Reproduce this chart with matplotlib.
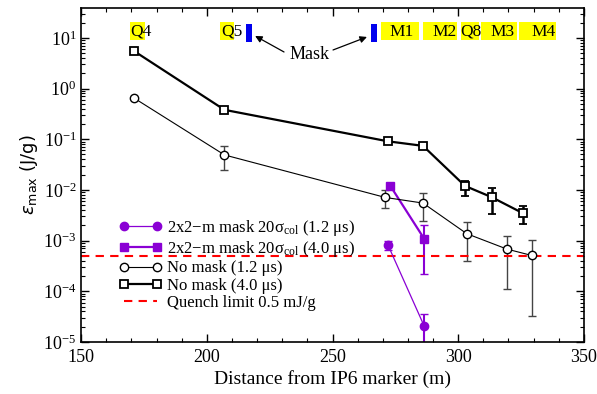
import numpy as np
import matplotlib
matplotlib.use("Agg")
import matplotlib.pyplot as plt
import matplotlib.transforms as mtrans
from matplotlib.patches import Rectangle

plt.rcParams['font.family'] = ['Liberation Serif', 'DejaVu Serif']
plt.rcParams['mathtext.fontset'] = 'custom'
plt.rcParams['mathtext.rm'] = 'Liberation Serif'
plt.rcParams['mathtext.it'] = 'Liberation Serif:italic'

# no mask, 4.0 us
nm4_x = [171, 207, 272, 286, 302.7, 313.3, 325.6]
nm4_y = [5.5, 0.38, 0.091, 0.074, 0.012, 0.0072, 0.0035]
nm4_lo = [5.5, 0.38, 0.091, 0.074, 0.0077, 0.0033, 0.0021]
nm4_hi = [5.5, 0.38, 0.091, 0.074, 0.0148, 0.011, 0.0049]

# no mask, 1.2 us
nm1_x = [171, 207, 271, 286, 303.4, 319.4, 329.2]
nm1_y = [0.65, 0.049, 0.0071, 0.0055, 0.00137, 0.00068, 0.00051]
nm1_lo = [0.65, 0.025, 0.0043, 0.0024, 0.0004, 0.000113, 3.3e-5]
nm1_hi = [0.65, 0.075, 0.010, 0.0086, 0.0023, 0.00123, 0.00101]

# 2x2-m mask, 4.0 us
m4_x = [273, 286.4]
m4_y = [0.012, 0.0011]
m4_lo = [0.0115, 0.00022]
m4_hi = [0.0128, 0.002]

# 2x2-m mask, 1.2 us
m1_x = [272, 286.4]
m1_y = [0.00083, 2.1e-5]
m1_lo = [0.00065, 5e-6]
m1_hi = [0.001, 3.6e-5]

quench = 5e-4

magnets = ['Q4', 'Q5', 'M1', 'M2', 'Q8', 'M3', 'M4']
magnet_x = [173.9, 209.8, 277.6, 294.7, 305, 317.6, 333.9]
# yellow boxes (x start, x end)
box_x0 = [169.5, 205.3, 269.3, 286, 301.1, 309, 324.2]
box_x1 = [175.4, 210.8, 284.4, 299.5, 308.3, 323.4, 338.9]
mask_x = [215.6, 265.3]


def errs(y, lo, hi):
    y = np.array(y)
    return [y - np.array(lo), np.array(hi) - y]


fig = plt.figure(figsize=(5.97, 3.94), dpi=100)
ax = fig.add_axes([0.136, 0.132, 0.842, 0.848])

purple = '#8a00d4'
c1 = ax.errorbar(m1_x, m1_y, yerr=errs(m1_y, m1_lo, m1_hi), color=purple,
                 lw=0.9, marker='o', ms=6, capsize=3, elinewidth=1.5,
                 label='2x2\u2212m mask 20σ$_{\\rm col}$ (1.2 μs)')
c2 = ax.errorbar(m4_x, m4_y, yerr=errs(m4_y, m4_lo, m4_hi), color=purple,
                 lw=1.6, marker='s', ms=6, capsize=3, elinewidth=1.5,
                 label='2x2\u2212m mask 20σ$_{\\rm col}$ (4.0 μs)')
c3 = ax.errorbar(nm1_x, nm1_y, yerr=errs(nm1_y, nm1_lo, nm1_hi), color='black',
                 lw=0.8, marker='o', ms=6, mfc='white', capsize=3,
                 elinewidth=1.0, ecolor='#444444', label='No mask (1.2 μs)')
c4 = ax.errorbar(nm4_x, nm4_y, yerr=errs(nm4_y, nm4_lo, nm4_hi), color='black',
                 lw=1.6, marker='s', ms=6, mfc='white', mew=1.3, capsize=3,
                 elinewidth=1.8, label='No mask (4.0 μs)')
ql = ax.axhline(quench, color='red', ls=(0, (4, 3)), lw=1.5,
                label='Quench limit 0.5 mJ/g')

ax.set_yscale('log')
ax.set_xlim(150, 350)
ax.set_ylim(1e-5, 39)
ax.set_xticks([150, 200, 250, 300, 350])
ax.set_xticks(np.arange(150, 351, 10), minor=True)
ax.set_yticks([1e-5, 1e-4, 1e-3, 1e-2, 1e-1, 1, 10])
ax.tick_params(which='both', direction='in', top=True, right=True,
               labelsize=13)
ax.tick_params(axis='x', pad=5)
ax.tick_params(which='major', length=6, width=1)
ax.tick_params(which='minor', length=3, width=0.8)
for s in ax.spines.values():
    s.set_linewidth(1.2)

ax.set_xlabel('Distance from IP6 marker (m)', fontsize=14, labelpad=3)
ax.set_ylabel(r'$\varepsilon_{\rm max}$ (J/g)', fontsize=13,
              family='DejaVu Sans', math_fontfamily='dejavusans', labelpad=2)

# magnet labels with yellow boxes
trans = mtrans.blended_transform_factory(ax.transData, ax.transAxes)
for x0, x1 in zip(box_x0, box_x1):
    ax.add_patch(Rectangle((x0, 0.904), x1 - x0, 0.054, transform=trans,
                           facecolor='yellow', edgecolor='none', zorder=1))
for name, x in zip(magnets, magnet_x):
    ax.text(x, 0.928, name, transform=trans, ha='center', va='center',
            fontsize=12.5, zorder=2)
for x in mask_x:
    ax.add_patch(Rectangle((x, 0.897), 2.4, 0.054, transform=trans,
                           facecolor='#0000ee', edgecolor='none', zorder=2))

ax.text(241, 0.859, 'Mask', transform=trans, ha='center', va='center',
        fontsize=13)
ax.annotate('', xy=(219.2, 0.916), xytext=(230.7, 0.868), xycoords=trans,
            textcoords=trans,
            arrowprops=dict(arrowstyle='-|>', color='black', lw=0.9,
                            shrinkA=0, shrinkB=0))
ax.annotate('', xy=(263.7, 0.913), xytext=(250.2, 0.874), xycoords=trans,
            textcoords=trans,
            arrowprops=dict(arrowstyle='-|>', color='black', lw=0.9,
                            shrinkA=0, shrinkB=0))

handles = [c1[0], c2[0], c3[0], c4[0], ql]
labels = [h.get_label() for h in (c1, c2, c3, c4)] + [ql.get_label()]
ax.legend(handles, labels, loc='upper left', bbox_to_anchor=(0.075, 0.372),
          frameon=False, fontsize=12, handlelength=2.6, handletextpad=0.3,
          labelspacing=0.08, borderpad=0, borderaxespad=0, numpoints=2)

fig.savefig('out.png', dpi=100)
